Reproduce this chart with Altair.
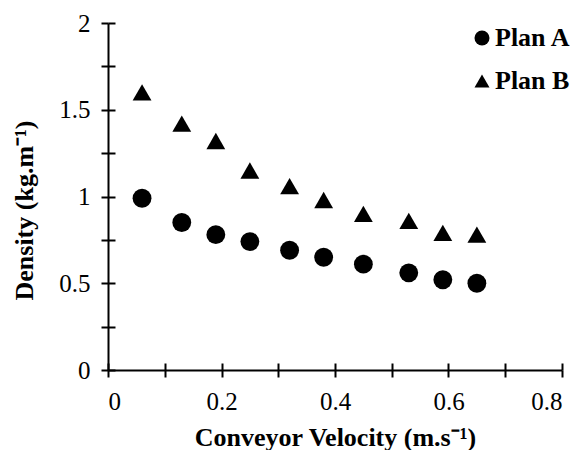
import altair as alt
import pandas as pd

velocity = [0.06, 0.13, 0.19, 0.25, 0.32, 0.38, 0.45, 0.53, 0.59, 0.65]
plan_a = [0.99, 0.85, 0.78, 0.74, 0.69, 0.65, 0.61, 0.56, 0.52, 0.50]
plan_b = [1.60, 1.42, 1.32, 1.15, 1.06, 0.98, 0.90, 0.86, 0.79, 0.78]
series = ["Plan A", "Plan B"]
x_ticks = [0, 0.1, 0.2, 0.3, 0.4, 0.5, 0.6, 0.7, 0.8]
y_ticks = [0, 0.25, 0.5, 0.75, 1, 1.25, 1.5, 1.75, 2]
x_title = "Conveyor Velocity (m.s⁻¹)"
y_title = "Density (kg.m⁻¹)"

rows = []
for v, a, b in zip(velocity, plan_a, plan_b):
    rows.append({"v": v, "d": a, "plan": series[0]})
    rows.append({"v": v, "d": b, "plan": series[1]})
df = pd.DataFrame(rows)

FONT = "Liberation Serif"
TICK = 7
xscale = alt.Scale(domain=[0, 0.8], nice=False, zero=True)
yscale = alt.Scale(domain=[0, 2], nice=False, zero=True)

points = alt.Chart(df).mark_point(
    filled=True, color="black", opacity=1, size=355
).encode(
    x=alt.X("v:Q", scale=xscale, axis=alt.Axis(
        values=x_ticks, orient="bottom",
        labelExpr="round(datum.value*10) % 2 == 0 ? '' + datum.value : ''",
        title=x_title, labelPadding=12, titlePadding=10)),
    y=alt.Y("d:Q", scale=yscale, axis=alt.Axis(
        values=y_ticks, orient="left",
        labelExpr="round(datum.value*4) % 2 == 0 ? '' + datum.value : ''",
        title=y_title, labelPadding=11, titleY=187, titlePadding=21)),
    shape=alt.Shape("plan:N", scale=alt.Scale(domain=series, range=["circle", "triangle-up"]),
                    legend=alt.Legend(title=None, orient="none", legendX=361, legendY=2)),
)

inner = alt.Chart(df).mark_point(opacity=0).encode(
    x=alt.X("v:Q", scale=xscale, axis=alt.Axis(
        values=x_ticks, orient="bottom", labels=False, domain=False,
        title=None, offset=-TICK)),
    y=alt.Y("d:Q", scale=yscale, axis=alt.Axis(
        values=y_ticks, orient="left", labels=False, domain=False,
        title=None, offset=-TICK)),
)

chart = alt.layer(points, inner).resolve_axis(x="independent", y="independent").properties(
    width=454, height=347,
    autosize=alt.AutoSizeParams(type="none"),
    padding={"left": 100, "top": 15, "right": 10, "bottom": 80},
    background="white",
).configure_view(stroke=None).configure_axis(
    grid=False, domainColor="black", domainWidth=2,
    tickColor="black", tickWidth=2, tickSize=TICK,
    labelFont=FONT, labelFontSize=25, labelColor="black",
    titleFont=FONT, titleFontSize=26, titleFontWeight="bold", titleColor="black",
).configure_legend(
    labelFont=FONT, labelFontSize=26, labelFontWeight="bold",
    labelColor="black", symbolSize=225, symbolFillColor="black",
    symbolStrokeWidth=0, symbolOpacity=1, labelOffset=0,
    rowPadding=17, padding=0,
)

chart.save("out.html", embed_options={"renderer": "svg", "actions": False})
